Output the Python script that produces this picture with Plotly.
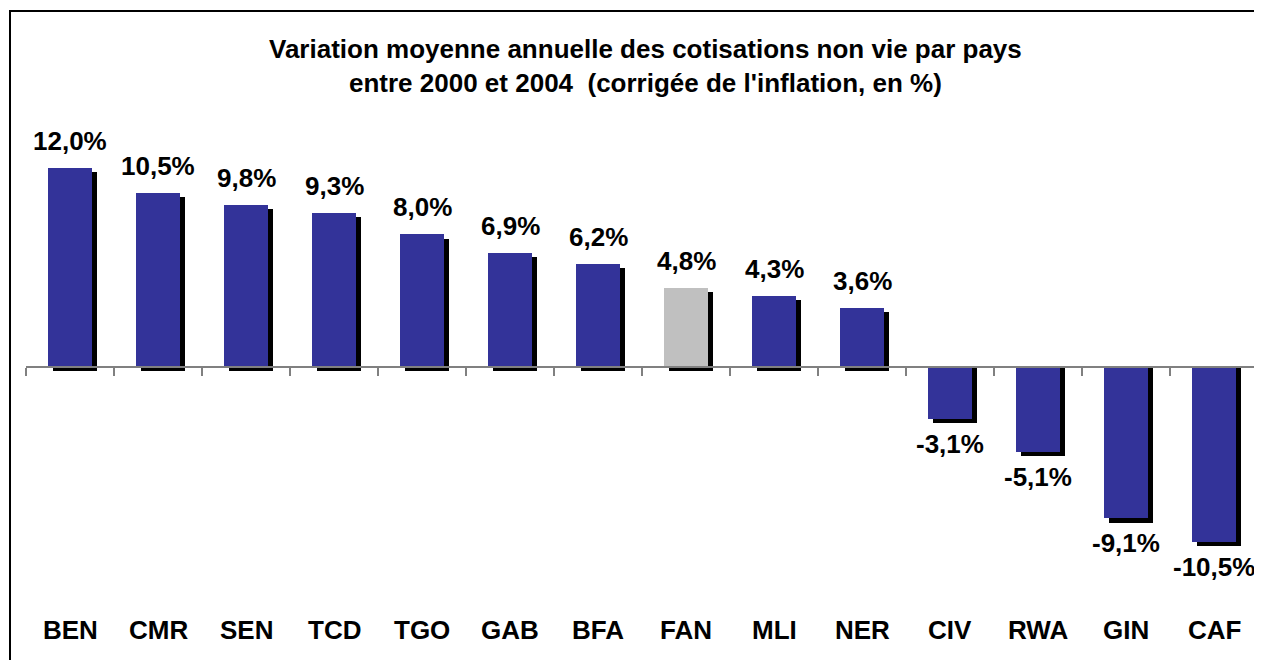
import plotly.graph_objects as go

categories = ["BEN", "CMR", "SEN", "TCD", "TGO", "GAB", "BFA", "FAN", "MLI", "NER", "CIV", "RWA", "GIN", "CAF"]
values = [12.0, 10.5, 9.8, 9.3, 8.0, 6.9, 6.2, 4.8, 4.3, 3.6, -3.1, -5.1, -9.1, -10.5]
labels = ["12,0%", "10,5%", "9,8%", "9,3%", "8,0%", "6,9%", "6,2%", "4,8%", "4,3%", "3,6%", "-3,1%", "-5,1%", "-9,1%", "-10,5%"]
highlight = "FAN"

title_lines = ["Variation moyenne annuelle des cotisations non vie par pays",
               "entre 2000 et 2004  (corrigée de l'inflation, en %)"]

BLUE = "#333399"
GREY = "#C0C0C0"
FONT = "Arial, Liberation Sans, sans-serif"

# page body has an 8px margin: work in figure pixels = screen pixels - 8
OFF = 8
W, H = 1262 - OFF, 660 - OFF
ML, MR, MT, MB = 26 - OFF, 4, 100 - OFF, 80 - OFF
PH = H - MT - MB          # plot height in px
PB = MT + PH              # plot bottom (figure px)
ymin, ymax = -13.29, 16.10
shadow_dy = 0.245


def py(screen_y):
    return (PB - (screen_y - OFF)) / PH


def px(screen_x):
    return (screen_x - OFF - ML) / (W - ML - MR)


colors = [GREY if c == highlight else BLUE for c in categories]
shadow_base = [0 if v < 0 else -shadow_dy for v in values]
shadow_y = [v - shadow_dy if v < 0 else v for v in values]

fig = go.Figure()
fig.add_trace(go.Bar(x=categories, y=shadow_y, base=shadow_base, width=0.51, offset=-0.198,
                     marker=dict(color="black", line=dict(width=0)), hoverinfo="skip", showlegend=False))
fig.add_trace(go.Bar(x=categories, y=values, width=0.51, offset=-0.255,
                     marker=dict(color=colors, line=dict(width=0)), showlegend=False))

annotations = []
for c, v, t in zip(categories, values, labels):
    annotations.append(dict(x=c, y=v, text="<b>%s</b>" % t, showarrow=False, xanchor="center", yanchor="middle",
                            yshift=27 if v >= 0 else -25,
                            font=dict(family=FONT, size=26, color="black")))
for c in categories:
    annotations.append(dict(x=c, xref="x", y=py(630), yref="paper",
                            text="<b>%s</b>" % c, showarrow=False, xanchor="center", yanchor="middle",
                            font=dict(family=FONT, size=26, color="black")))
for line, yy in zip(title_lines, [49, 83]):
    annotations.append(dict(x=px(645), xref="paper", y=py(yy), yref="paper", text="<b>%s</b>" % line,
                            showarrow=False, xanchor="center", yanchor="middle",
                            font=dict(family=FONT, size=26, color="black")))

zero_pos = (0 - ymin) / (ymax - ymin)

fig.update_layout(
    width=W, height=H, autosize=False,
    margin=dict(l=ML, r=MR, t=MT, b=MB, pad=0),
    paper_bgcolor="white", plot_bgcolor="white",
    barmode="overlay", bargap=0,
    xaxis=dict(type="category", showticklabels=False, showline=True, linecolor="#808080", linewidth=1.5,
               ticks="outside", tickson="boundaries", ticklen=8, tickcolor="#808080", tickwidth=1.5,
               showgrid=False, zeroline=False, anchor="free", position=zero_pos,
               range=[-0.5, len(categories) - 0.5]),
    yaxis=dict(range=[ymin, ymax], visible=False, showgrid=False, zeroline=False),
    annotations=annotations,
    shapes=[dict(type="rect", xref="paper", yref="paper",
                 x0=px(10), x1=px(1290), y0=py(690), y1=py(11),
                 line=dict(color="black", width=2), fillcolor="rgba(0,0,0,0)", layer="below")],
    font=dict(family=FONT),
)

fig.write_html("out.html", config={"displayModeBar": False})
